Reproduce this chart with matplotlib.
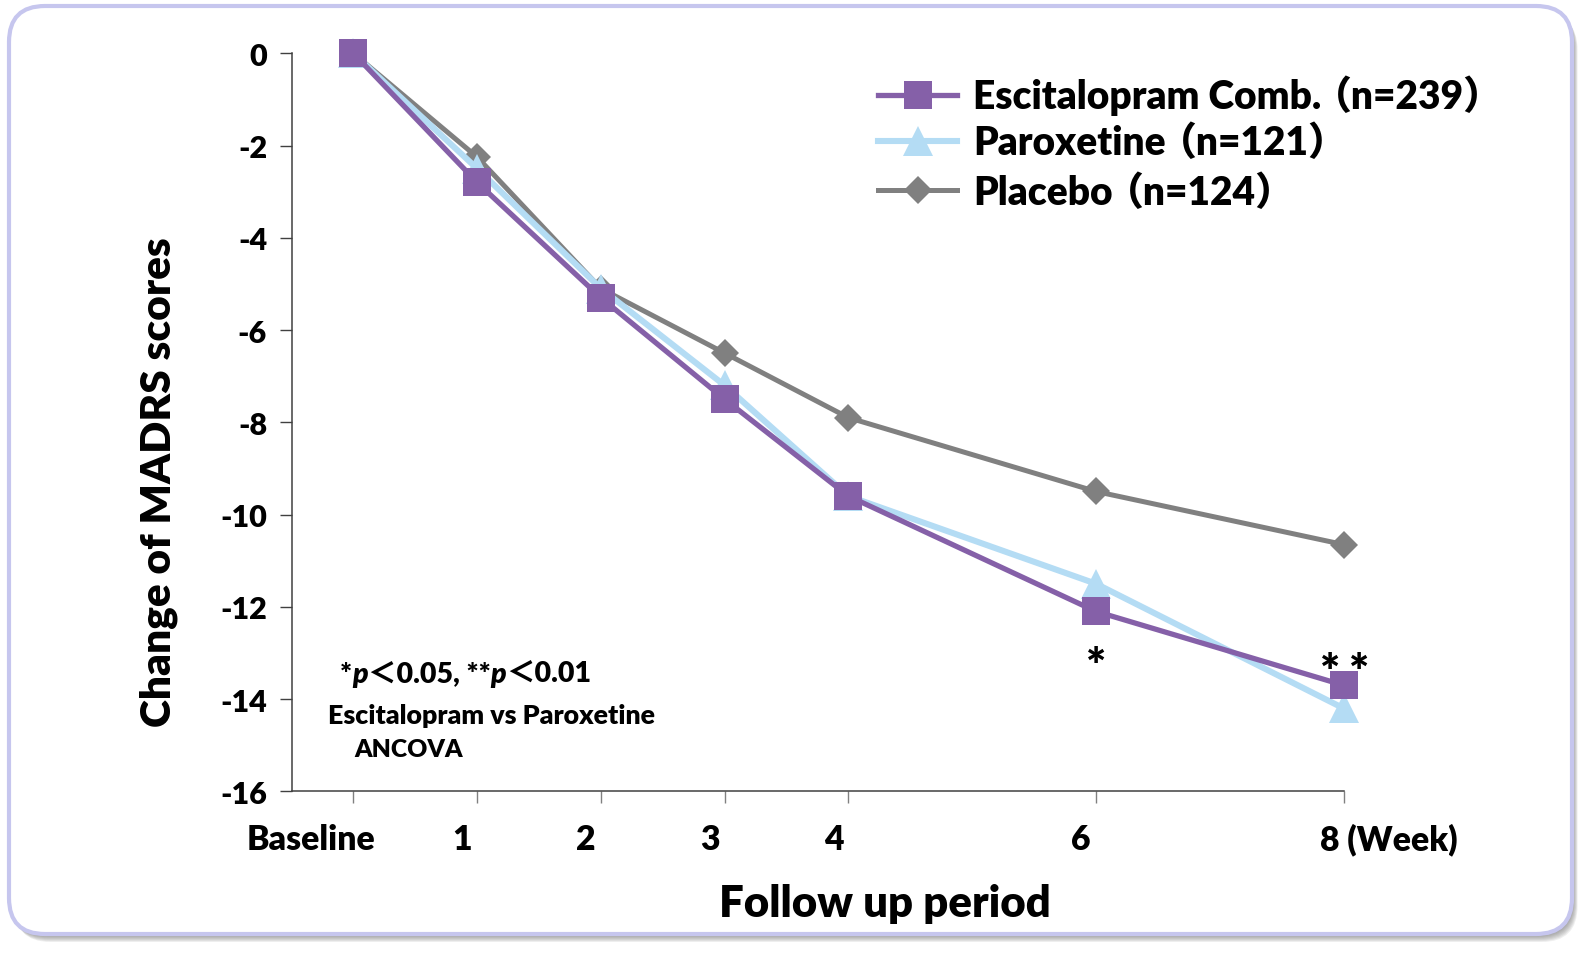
import matplotlib
matplotlib.use("Agg")
import matplotlib.pyplot as plt
from matplotlib.patches import FancyBboxPatch
from matplotlib.lines import Line2D
from matplotlib.transforms import IdentityTransform, offset_copy
from matplotlib.offsetbox import TextArea, HPacker, AnnotationBbox

# === Data ===
weeks = [0, 1, 2, 3, 4, 6, 8]
week_labels = ["Baseline", "1", "2", "3", "4", "6", "8 (Week)"]
escitalopram = [0, -2.8, -5.3, -7.5, -9.6, -12.1, -13.7]
paroxetine = [0, -2.5, -5.1, -7.2, -9.6, -11.5, -14.2]
placebo = [0, -2.25, -5.1, -6.5, -7.9, -9.5, -10.65]
series_names = ["Escitalopram Comb.", "Paroxetine", "Placebo"]
series_n = ["（n=239）", "（n=121）", "（n=124）"]
y_ticks = list(range(-16, 1, 2))

PURPLE = "#8560A8"
BLUE = "#B4DCF4"
GRAY = "#808080"
FONT = ["Lato", "Noto Sans CJK JP", "DejaVu Sans"]
WEIGHT = "heavy"

plt.rcParams["font.family"] = FONT
plt.rcParams["font.weight"] = WEIGHT

W, H = 1582, 954
fig = plt.figure(figsize=(W / 100, H / 100), dpi=100)
pix = IdentityTransform()
renderer = fig.canvas.get_renderer()

# === Rounded frame with soft shadow ===
for k in range(8, 0, -1):
    fig.add_artist(FancyBboxPatch((9 + k * 0.7, H - 935 - k), 1563, 928,
                                  boxstyle="round,pad=0,rounding_size=36",
                                  fc="#606060", ec="none", alpha=0.10,
                                  transform=pix, zorder=-10))
fig.add_artist(FancyBboxPatch((9, H - 935), 1563, 928,
                              boxstyle="round,pad=0,rounding_size=36",
                              fc="white", ec="#c6c6ee", lw=3,
                              transform=pix, zorder=-9))

# === Axes ===
ax = fig.add_axes([291.5 / W, (H - 792.3) / H, (1343.5 - 291.5) / W, (792.3 - 54.3) / H])
ax.patch.set_visible(False)
ax.set_xlim(-0.5, 8)
ax.set_ylim(-16, 0)

styles = [
    dict(color=PURPLE, lw=3.8, marker="s", ms=20, zorder=5),
    dict(color=BLUE, lw=4.4, marker="^", ms=21, zorder=4),
    dict(color=GRAY, lw=3.6, marker="D", ms=14, zorder=3),
]
for vals, st in zip([escitalopram, paroxetine, placebo], styles):
    ax.plot(weeks, vals, mew=0, clip_on=False, **st)

for s in ["top", "right"]:
    ax.spines[s].set_visible(False)
for s in ["left", "bottom"]:
    ax.spines[s].set_color("#404040")
    ax.spines[s].set_linewidth(1.1)

ax.set_yticks(y_ticks)
ax.set_yticklabels([str(v) for v in y_ticks])
ax.tick_params(axis="y", length=9, width=1, color="#404040", pad=8.6, labelsize=22)
ax.set_xticks(weeks)
ax.set_xticklabels([])
ax.tick_params(axis="x", length=8.6, width=1, color="#808080")

# x tick labels (shifted like the original)
for w, lab in zip(weeks, week_labels):
    if lab == "Baseline":
        ha, dx = "right", 22
    elif "Week" in lab:
        ha, dx = "left", -23
    else:
        ha, dx = "center", -15
    tr = offset_copy(ax.get_xaxis_transform(), fig=fig, x=dx, y=-58, units="dots")
    ax.text(w, 0, lab, transform=tr, ha=ha, va="baseline", fontsize=24.3, clip_on=False)

# axis titles
fig.text(170, H - 482, "Change of MADRS scores", transform=pix, rotation=90,
         rotation_mode="anchor", ha="center", va="baseline", fontsize=30.5)
fig.text(885, H - 916.7, "Follow up period", transform=pix,
         ha="center", va="baseline", fontsize=31.5)

# === Legend ===
for name, n, st, y in zip(series_names, series_n, styles, [95.5, 141.7, 191]):
    fig.add_artist(Line2D([878, 917.5, 957], [H - y] * 3, color=st["color"], lw=st["lw"],
                          marker=st["marker"], ms=st["ms"], mew=0, markevery=[1],
                          transform=pix))
    t = fig.text(973, H - (y + 13.8), name, transform=pix, va="baseline", fontsize=28)
    x_end = t.get_window_extent(renderer).x1
    fig.text(x_end - 8, H - (y + 13.8), n, transform=pix, va="baseline", fontsize=28)

# === Significance notes ===
parts = [("*", "normal"), ("p", "italic"), ("＜0.05, **", "normal"),
         ("p", "italic"), ("＜0.01", "normal")]
box = HPacker(children=[TextArea(t, textprops=dict(fontsize=20.5, fontweight=WEIGHT,
                                                    fontstyle=fs, family=FONT))
                        for t, fs in parts],
              align="baseline", pad=0, sep=0)
fig.add_artist(AnnotationBbox(box, (340, H - 688), xycoords="figure pixels",
                              box_alignment=(0, 0), frameon=False, pad=0))
fig.text(328, H - 724, "Escitalopram vs Paroxetine", transform=pix, va="baseline", fontsize=19.3)
fig.text(354, H - 757.3, "ANCOVA", transform=pix, va="baseline", fontsize=17.8)

ax.annotate("*", xy=(6, escitalopram[5]), xytext=(0, -70), textcoords="offset pixels",
            ha="center", va="baseline", fontsize=34, annotation_clip=False)
for dx in (-13, 16):
    ax.annotate("*", xy=(8, escitalopram[6]), xytext=(dx, -2), textcoords="offset pixels",
                ha="center", va="baseline", fontsize=34, annotation_clip=False)

fig.savefig("out.png", dpi=100, facecolor="white")
